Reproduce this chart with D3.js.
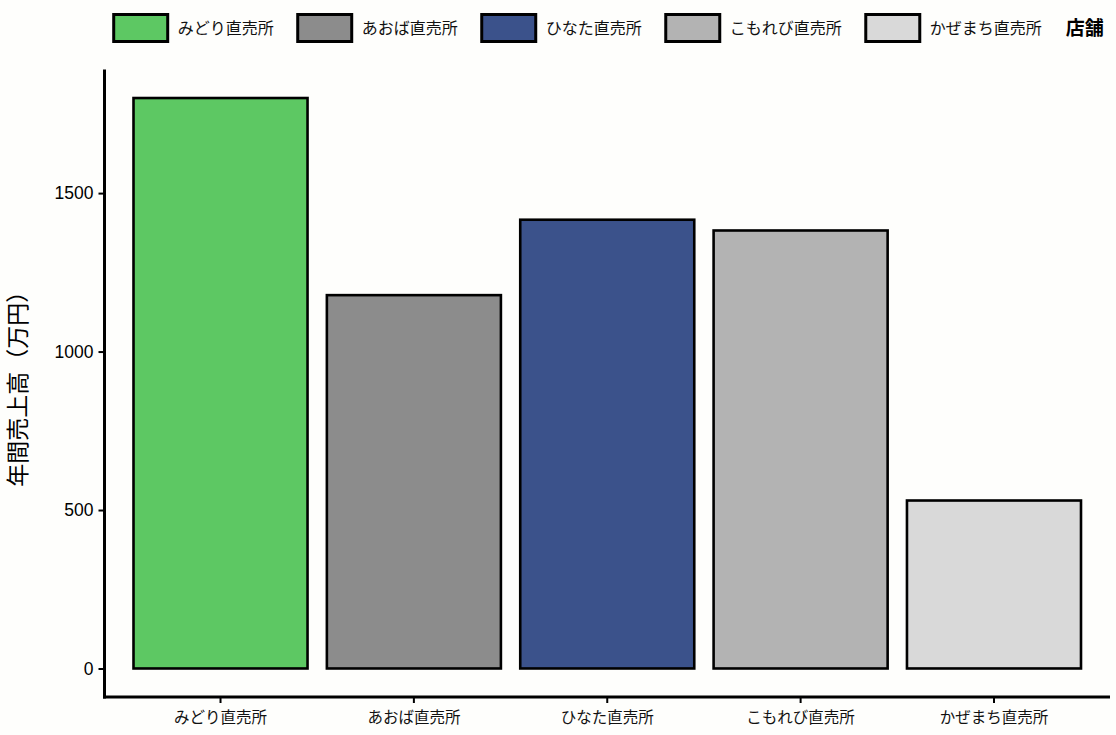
<!DOCTYPE html>
<html>
<head>
<meta charset="utf-8">
<script src="https://cdn.jsdelivr.net/npm/d3@7"></script>
<style>
  html, body { margin: 0; padding: 0; background: #fefefc; }
  svg { display: block; }
</style>
</head>
<body>
<svg id="chart" width="1116" height="735"></svg>
<script>
// ---- data ----
const stores = ["みどり直売所", "あおば直売所", "ひなた直売所", "こもれび直売所", "かぜまち直売所"];
const sales = [1800, 1178, 1416, 1382, 530];
const colors = ["#5DC863", "#8C8C8C", "#3B528B", "#B3B3B3", "#D9D9D9"];
const yTicks = [0, 500, 1000, 1500];
const yTitle = "年間売上高（万円）";
const legendTitle = "店舗";

// ---- layout ----
const W = 1116, H = 735;
const panel = { left: 104.5, right: 1110, top: 69.5, bottom: 697 };
const jpFont = "'Noto Sans CJK JP', 'Noto Sans', sans-serif";
const numFont = "'Liberation Sans', Arial, sans-serif";

const svg = d3.select("#chart");
svg.append("rect").attr("width", W).attr("height", H).attr("fill", "#fefefc");

const maxV = d3.max(sales);
const y = d3.scaleLinear()
  .domain([-maxV * 0.05, maxV * 1.05])
  .range([panel.bottom, panel.top]);

const x = d3.scaleBand()
  .domain(stores)
  .range([panel.left, panel.right])
  .paddingInner(0.1)
  .paddingOuter(0.15);

const color = d3.scaleOrdinal().domain(stores).range(colors);

// bars
svg.append("g").selectAll("rect")
  .data(stores.map((s, i) => ({ s, v: sales[i] })))
  .join("rect")
  .attr("x", d => x(d.s))
  .attr("width", x.bandwidth())
  .attr("y", d => y(d.v))
  .attr("height", d => y(0) - y(d.v))
  .attr("fill", d => color(d.s))
  .attr("stroke", "#000")
  .attr("stroke-width", 2.6);

// y axis
const yAxis = svg.append("g")
  .attr("transform", `translate(${panel.left},0)`)
  .call(d3.axisLeft(y).tickValues(yTicks).tickSize(6).tickPadding(5).tickFormat(d3.format("d")));
yAxis.select(".domain").remove();
yAxis.selectAll(".tick line").attr("stroke", "#000").attr("stroke-width", 2);
yAxis.selectAll(".tick text")
  .attr("fill", "#000")
  .style("font-family", numFont)
  .style("font-size", "17.5px");
svg.append("line")
  .attr("x1", panel.left).attr("x2", panel.left)
  .attr("y1", panel.top).attr("y2", panel.bottom + 1.5)
  .attr("stroke", "#000").attr("stroke-width", 3);

// x axis
const xAxis = svg.append("g")
  .attr("transform", `translate(0,${panel.bottom})`)
  .call(d3.axisBottom(x).tickSize(6).tickPadding(9));
xAxis.select(".domain").remove();
xAxis.selectAll(".tick line").attr("stroke", "#000").attr("stroke-width", 2);
xAxis.selectAll(".tick text")
  .attr("fill", "#111")
  .style("font-family", jpFont)
  .style("font-size", "15.5px");
svg.append("line")
  .attr("x1", panel.left - 1.5).attr("x2", panel.right)
  .attr("y1", panel.bottom).attr("y2", panel.bottom)
  .attr("stroke", "#000").attr("stroke-width", 3);

// y title
svg.append("text")
  .attr("transform", `translate(26,${(panel.top + panel.bottom) / 2}) rotate(-90)`)
  .attr("text-anchor", "middle")
  .style("font-family", jpFont)
  .style("font-size", "23px")
  .attr("fill", "#000")
  .text(yTitle);

// legend
const legend = svg.append("g");
const keyW = 54, keyH = 27, keyGap = 10, itemGap = 24, titleGap = 24, legY = 14.5;
let cx = 0;
stores.forEach((s) => {
  const g = legend.append("g");
  g.append("rect")
    .attr("x", 0).attr("y", legY).attr("width", keyW).attr("height", keyH)
    .attr("fill", color(s)).attr("stroke", "#000").attr("stroke-width", 3);
  const t = g.append("text")
    .attr("x", keyW + keyGap).attr("y", legY + keyH / 2)
    .attr("dy", "0.36em")
    .style("font-family", jpFont).style("font-size", "16px")
    .attr("fill", "#111")
    .text(s);
  g.attr("transform", `translate(${cx},0)`);
  cx += keyW + keyGap + t.node().getComputedTextLength() + itemGap;
});
cx += titleGap - itemGap;
const lt = legend.append("text")
  .attr("x", cx).attr("y", legY + keyH / 2).attr("dy", "0.36em")
  .style("font-family", jpFont).style("font-size", "19px").style("font-weight", "bold")
  .attr("fill", "#000")
  .text(legendTitle);
const totalW = cx + lt.node().getComputedTextLength();
const legCenter = (panel.left + panel.right) / 2;
legend.attr("transform", `translate(${legCenter - totalW / 2 + 1.5},0)`);
</script>
</body>
</html>
